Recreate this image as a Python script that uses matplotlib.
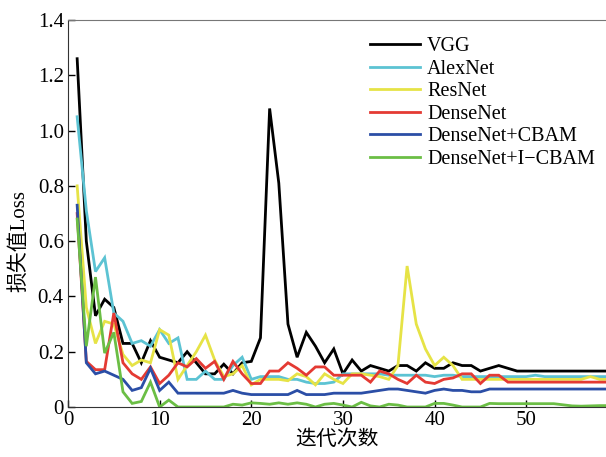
import matplotlib
matplotlib.use("Agg")
import matplotlib.pyplot as plt
import numpy as np

epochs = list(range(1, 60))

vgg = [1.26, 0.60, 0.33, 0.39, 0.36, 0.23, 0.23, 0.16, 0.24, 0.18,
       0.17, 0.16, 0.20, 0.16, 0.12, 0.12, 0.155, 0.12, 0.16, 0.165,
       0.25, 1.08, 0.81, 0.30, 0.18, 0.27, 0.22, 0.16, 0.21, 0.12,
       0.17, 0.13, 0.15, 0.14, 0.13, 0.15, 0.15, 0.13, 0.16, 0.14,
       0.14, 0.16, 0.15, 0.15, 0.13, 0.14, 0.15, 0.14, 0.13, 0.13,
       0.13, 0.13, 0.13, 0.13, 0.13, 0.13, 0.13, 0.13, 0.13]

alexnet = [1.05, 0.71, 0.49, 0.54, 0.34, 0.31, 0.23, 0.24, 0.22, 0.28,
           0.23, 0.25, 0.10, 0.10, 0.13, 0.10, 0.10, 0.15, 0.18, 0.10,
           0.11, 0.11, 0.11, 0.10, 0.10, 0.09, 0.085, 0.085, 0.09, 0.12,
           0.12, 0.12, 0.12, 0.12, 0.115, 0.115, 0.115, 0.115, 0.115, 0.11,
           0.115, 0.115, 0.11, 0.11, 0.11, 0.11, 0.11, 0.11, 0.11, 0.11,
           0.115, 0.11, 0.11, 0.11, 0.11, 0.11, 0.11, 0.11, 0.11]

resnet = [0.80, 0.36, 0.23, 0.31, 0.30, 0.19, 0.15, 0.17, 0.16, 0.28,
          0.26, 0.10, 0.15, 0.20, 0.26, 0.17, 0.11, 0.12, 0.15, 0.08,
          0.10, 0.10, 0.10, 0.095, 0.12, 0.11, 0.08, 0.12, 0.10, 0.085,
          0.12, 0.12, 0.115, 0.11, 0.10, 0.15, 0.51, 0.30, 0.21, 0.15,
          0.18, 0.15, 0.10, 0.10, 0.10, 0.10, 0.10, 0.10, 0.10, 0.10,
          0.10, 0.10, 0.10, 0.10, 0.10, 0.10, 0.11, 0.10, 0.10]

densenet = [0.70, 0.165, 0.135, 0.135, 0.34, 0.16, 0.12, 0.10, 0.145, 0.085,
            0.115, 0.16, 0.145, 0.175, 0.14, 0.165, 0.10, 0.165, 0.12, 0.085,
            0.085, 0.13, 0.13, 0.16, 0.14, 0.115, 0.145, 0.145, 0.115, 0.115,
            0.115, 0.115, 0.09, 0.13, 0.12, 0.10, 0.085, 0.115, 0.09, 0.085,
            0.10, 0.105, 0.12, 0.12, 0.085, 0.115, 0.115, 0.09, 0.09, 0.09,
            0.09, 0.09, 0.09, 0.09, 0.09, 0.09, 0.09, 0.09, 0.09]

cbam = [0.73, 0.16, 0.12, 0.13, 0.115, 0.10, 0.06, 0.07, 0.14, 0.06,
        0.09, 0.05, 0.05, 0.05, 0.05, 0.05, 0.05, 0.06, 0.05, 0.045,
        0.045, 0.045, 0.045, 0.045, 0.06, 0.045, 0.045, 0.045, 0.05, 0.05,
        0.05, 0.05, 0.055, 0.06, 0.065, 0.065, 0.06, 0.055, 0.05, 0.06,
        0.065, 0.06, 0.06, 0.055, 0.055, 0.065, 0.065, 0.065, 0.065, 0.065,
        0.065, 0.065, 0.065, 0.065, 0.065, 0.065, 0.065, 0.065, 0.065]

icbam = [0.68, 0.22, 0.47, 0.195, 0.27, 0.055, 0.013, 0.02, 0.09, 0.0,
         0.025, 0.0, 0.0, 0.0, 0.0, 0.0, 0.0, 0.01, 0.007, 0.015,
         0.013, 0.01, 0.015, 0.01, 0.015, 0.01, 0.0, 0.01, 0.013, 0.007,
         0.0, 0.017, 0.004, 0.0, 0.01, 0.007, 0.0, 0.0, 0.0, 0.013,
         0.013, 0.007, 0.0, 0.0, 0.0, 0.013, 0.012, 0.012, 0.012, 0.012,
         0.012, 0.012, 0.012, 0.008, 0.004, 0.003, 0.004, 0.005, 0.005]

labels = ["VGG", "AlexNet", "ResNet", "DenseNet", "DenseNet+CBAM", "DenseNet+I\u2212CBAM"]
colors = ["#000000", "#5CC3D3", "#E6E346", "#E43A33", "#2B4EA6", "#6BBE45"]
series = [vgg, alexnet, resnet, densenet, cbam, icbam]

xticks = [0, 10, 20, 30, 40, 50]
yticks = [0, 0.2, 0.4, 0.6, 0.8, 1.0, 1.2, 1.4]
ytick_labels = ["0", "0.2", "0.4", "0.6", "0.8", "1.0", "1.2", "1.4"]

serif = "Liberation Serif"
cjk = [serif, "Noto Sans CJK SC", "DejaVu Sans"]

fig = plt.figure(figsize=(6.06, 4.57), dpi=100)
ax = fig.add_axes([0.1122, 0.1094, 0.8878, 0.8468])

for ys, c, lab in zip(series, colors, labels):
    ax.plot(epochs, ys, color=c, lw=2.0, label=lab, solid_joinstyle="miter")

ax.set_xlim(0, 58.7)
ax.set_ylim(0, 1.4)
ax.set_xticks(xticks)
ax.set_yticks(yticks)
ax.set_yticklabels(ytick_labels)
ax.tick_params(direction="in", length=5, width=1, labelsize=15, pad=3)
for lab in ax.get_xticklabels() + ax.get_yticklabels():
    lab.set_family(serif)

ax.spines["right"].set_visible(False)
ax.spines["top"].set_color("#777777")
ax.spines["left"].set_color("#333333")
ax.spines["bottom"].set_color("#333333")

ax.set_xlabel("迭代次数", family=cjk, fontsize=15, labelpad=0)
ax.set_ylabel("损失值Loss", family=cjk, fontsize=15)
ax.yaxis.set_label_coords(-0.072, 0.43)

leg = ax.legend(loc="upper right", bbox_to_anchor=(1.013, 1.003), frameon=False,
                prop={"family": serif, "size": 14.5}, handlelength=2.5,
                handletextpad=0.35, labelspacing=0.17)

fig.savefig("out.png", dpi=100)
